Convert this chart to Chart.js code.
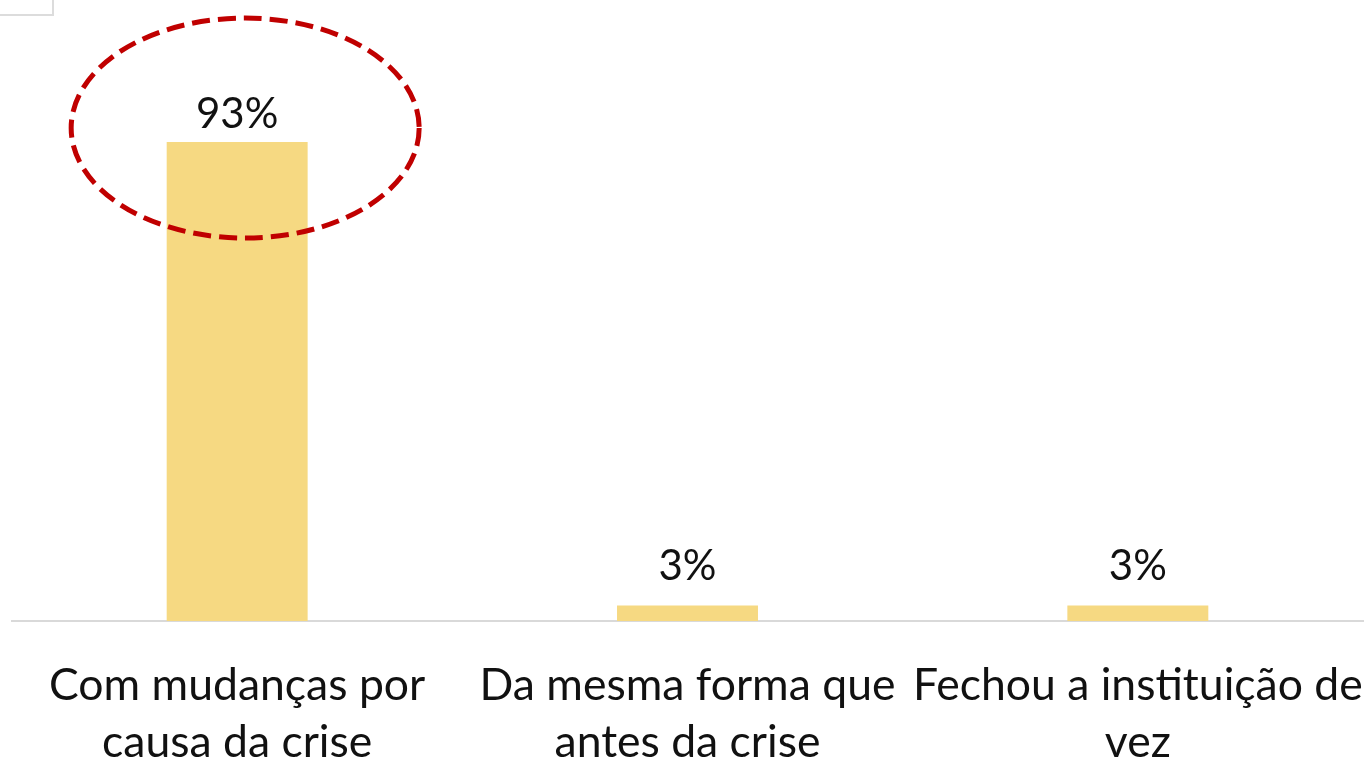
<!DOCTYPE html>
<html>
<head>
<meta charset="utf-8">
<script src="https://cdn.jsdelivr.net/npm/chart.js@4.4.0/dist/chart.umd.min.js"></script>
<style>
html,body{margin:0;padding:0;background:#fff;}
#wrap{width:1369px;height:760px;position:relative;}
</style>
</head>
<body>
<div id="wrap"><canvas id="c" width="1369" height="760"></canvas></div>
<script>
const categories = [
  ["Com mudanças por", "causa da crise"],
  ["Da mesma forma que", "antes da crise"],
  ["Fechou a instituição de", "vez"]
];
const values = [93, 3, 3];
const valueLabels = ["93%", "3%", "3%"];

const FONT = "Lato, 'Open Sans', sans-serif";

const extras = {
  id: 'extras',
  afterDatasetsDraw(chart) {
    const ctx = chart.ctx;
    const meta = chart.getDatasetMeta(0);
    const gaps = [14, 26, 26];
    ctx.save();
    ctx.fillStyle = '#111';
    ctx.font = '42px ' + FONT;
    ctx.textAlign = 'center';
    ctx.textBaseline = 'alphabetic';
    meta.data.forEach((bar, i) => {
      ctx.fillText(valueLabels[i], bar.x, bar.y - gaps[i]);
    });
    // highlight ellipse around the first bar's top
    const b = meta.data[0];
    ctx.strokeStyle = '#C00000';
    ctx.lineWidth = 5;
    ctx.setLineDash([18, 8]);
    ctx.beginPath();
    ctx.ellipse(b.x + 8, b.y - 14, 174, 110, 0, 0, Math.PI * 2);
    ctx.stroke();
    ctx.setLineDash([]);
    // small box fragment at top-left
    ctx.strokeStyle = '#dcdcdc';
    ctx.lineWidth = 2;
    ctx.strokeRect(-5, -5, 58, 20);
    ctx.restore();
  }
};

new Chart(document.getElementById('c'), {
  type: 'bar',
  data: {
    labels: categories,
    datasets: [{
      data: values,
      backgroundColor: '#F6D982',
      borderWidth: 0,
      barPercentage: 0.626,
      categoryPercentage: 0.5
    }]
  },
  options: {
    responsive: false,
    animation: false,
    layout: { padding: { left: 12, right: 6, top: 106, bottom: 0 } },
    plugins: { legend: { display: false }, tooltip: { enabled: false } },
    scales: {
      y: { display: false, min: 0, max: 100 },
      x: {
        grid: { display: false, drawTicks: false },
        border: { display: true, color: '#d9d9d9', width: 2 },
        ticks: {
          color: '#111',
          font: { family: FONT, size: 44.5, lineHeight: 1.28 },
          padding: 36,
          maxRotation: 0,
          autoSkip: false
        },
        afterFit(scale) {
          scale.height = 139;
          scale.paddingLeft = 0;
          scale.paddingRight = 0;
        }
      }
    }
  },
  plugins: [extras]
});
</script>
</body>
</html>
